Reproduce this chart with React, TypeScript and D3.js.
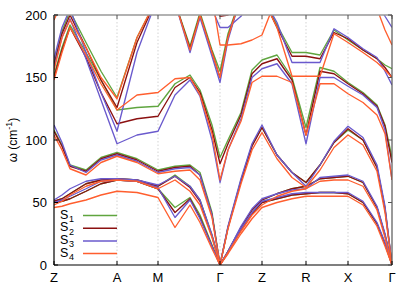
import * as d3 from 'd3'

// k-path: distance along the path, high-symmetry labels
const kPos = [0, 8, 16, 32, 47, 63, 83, 104, 121, 136, 146, 158, 166, 174, 187, 198, 208, 223, 238, 252, 266, 280, 294, 309, 323, 331, 338]
const tickK = [0, 63, 104, 166, 208, 252, 294, 338]
const tickLabels = ['Z', 'A', 'M', 'Γ', 'Z', 'R', 'X', 'Γ']
const yTicks = [0, 50, 100, 150, 200]

const seriesNames = ['1', '2', '3', '4']
const seriesColors = ['#5fa53f', '#8b1010', '#6a5acd', '#ff5e2e']

// frequencies (cm-1), one array per band, values at each kPos
const s1Bands = [
  [50, 51, 53, 59, 65, 68, 67, 61, 46, 54, 40, 16, 0, 10, 28, 41, 50, 53, 56, 57, 58, 58, 57, 50, 33, 17, 0],
  [51, 53, 57, 65, 68, 69, 68, 63, 72, 63, 52, 24, 0, 11, 30, 44, 52, 57, 61, 63, 69, 70, 71, 66, 46, 24, 0],
  [108, 96, 80, 76, 86, 90, 85, 76, 79, 80, 74, 42, 0, 30, 68, 96, 110, 88, 74, 66, 80, 98, 108, 100, 78, 45, 0],
  [152, 174, 192, 170, 148, 124, 126, 127, 145, 152, 140, 112, 86, 100, 122, 156, 164, 168, 150, 110, 158, 155, 146, 138, 128, 112, 86],
  [162, 187, 203, 178, 155, 134, 182, 215, 210, 175, 202, 172, 155, 185, 215, 215, 215, 192, 170, 170, 168, 188, 180, 172, 165, 160, 157],
  [205, 215, 215, 215, 215, 215, 215, 215, 215, 215, 215, 215, 205, 208, 215, 215, 215, 215, 215, 215, 215, 215, 215, 215, 215, 210, 205],
]
const s2Bands = [
  [50, 51, 53, 59, 65, 68, 67, 61, 42, 53, 38, 15, 0, 10, 28, 41, 50, 53, 56, 57, 58, 58, 57, 50, 33, 17, 0],
  [51, 53, 57, 65, 68, 69, 68, 63, 71, 62, 51, 23, 0, 11, 30, 44, 52, 57, 61, 63, 69, 70, 71, 66, 46, 24, 0],
  [107, 95, 79, 75, 85, 89, 84, 75, 78, 79, 72, 40, 0, 30, 67, 95, 110, 88, 74, 66, 80, 98, 109, 100, 78, 45, 0],
  [150, 172, 190, 166, 138, 113, 117, 119, 142, 150, 138, 108, 81, 97, 120, 153, 161, 165, 148, 104, 155, 153, 145, 137, 127, 111, 82],
  [160, 185, 200, 174, 148, 126, 178, 215, 210, 173, 200, 170, 150, 182, 215, 215, 215, 190, 167, 167, 165, 186, 181, 172, 165, 158, 150],
  [210, 215, 215, 215, 215, 215, 215, 215, 215, 215, 215, 212, 199, 200, 210, 215, 215, 215, 215, 215, 215, 215, 215, 215, 215, 205, 199],
]
const s3Bands = [
  [50, 52, 55, 61, 67, 68, 67, 62, 38, 52, 37, 15, 0, 10, 29, 42, 51, 54, 57, 58, 58, 58, 58, 51, 34, 18, 0],
  [52, 56, 61, 67, 69, 69, 68, 64, 71, 63, 52, 24, 0, 11, 31, 45, 53, 57, 60, 61, 70, 71, 72, 67, 47, 25, 0],
  [112, 98, 80, 74, 84, 88, 83, 74, 77, 78, 72, 40, 0, 31, 69, 97, 112, 88, 74, 63, 80, 99, 111, 102, 80, 47, 0],
  [158, 182, 197, 165, 132, 97, 104, 107, 136, 148, 135, 100, 66, 92, 117, 150, 157, 161, 145, 97, 150, 150, 143, 136, 126, 108, 68],
  [165, 190, 205, 170, 138, 107, 170, 215, 210, 170, 198, 167, 146, 180, 215, 215, 215, 194, 162, 162, 162, 189, 182, 173, 166, 155, 144],
  [215, 215, 215, 215, 215, 215, 215, 215, 215, 215, 215, 205, 190, 190, 199, 212, 215, 215, 215, 215, 215, 215, 215, 215, 210, 199, 190],
]
const s4Bands = [
  [46, 47, 49, 52, 56, 59, 58, 54, 30, 48, 34, 13, 0, 9, 25, 37, 46, 50, 53, 55, 55, 55, 55, 48, 31, 15, 0],
  [48, 51, 56, 63, 67, 68, 67, 61, 68, 59, 48, 22, 0, 10, 27, 40, 48, 55, 59, 61, 67, 68, 68, 63, 44, 22, 0],
  [104, 92, 77, 72, 82, 87, 82, 73, 75, 76, 68, 38, 0, 29, 65, 92, 106, 85, 70, 62, 76, 94, 104, 96, 75, 42, 0],
  [148, 170, 190, 168, 145, 124, 136, 138, 149, 150, 136, 105, 68, 92, 115, 146, 151, 151, 146, 104, 145, 145, 137, 130, 120, 105, 68],
  [156, 182, 196, 174, 150, 133, 182, 215, 210, 172, 200, 170, 150, 182, 215, 215, 215, 190, 151, 151, 151, 185, 178, 170, 162, 156, 150],
  [196, 210, 215, 215, 215, 215, 215, 215, 215, 215, 215, 215, 176, 176, 177, 180, 184, 215, 215, 215, 215, 215, 215, 215, 205, 188, 176],
]
const allSeries = [s1Bands, s2Bands, s3Bands, s4Bands]

const width = 415
const height = 291
const left = 54
const right = 392
const top = 15
const bottom = 265
const font = '"Liberation Sans", Arial, sans-serif'

export default function App() {
  const x = d3.scaleLinear().domain([0, 338]).range([left, right])
  const y = d3.scaleLinear().domain([0, 200]).range([bottom, top])
  const line = d3.line<number>()
    .x((_, i) => x(kPos[i]))
    .y(d => y(d))

  return (
    <svg width={width} height={height} style={{ position: 'absolute', left: 0, top: 0 }} fontFamily={font}>
      <defs>
        <clipPath id="plot">
          <rect x={left} y={top} width={right - left} height={bottom - top} />
        </clipPath>
      </defs>

      {/* dotted grid at high-symmetry points */}
      {tickK.slice(1, -1).map((k, i) => (
        <line key={i} x1={x(k)} x2={x(k)} y1={top} y2={bottom}
          stroke="#c8c8c8" strokeWidth={0.8} strokeDasharray="1.5,2" />
      ))}

      {/* bands */}
      <g clipPath="url(#plot)" fill="none" strokeWidth={1.35} strokeLinejoin="round">
        {allSeries.map((bands, si) => (
          <g key={si} stroke={seriesColors[si]}>
            {bands.map((b, bi) => <path key={bi} d={line(b) ?? ''} />)}
          </g>
        ))}
      </g>

      {/* frame */}
      <line x1={left} x2={right} y1={top} y2={top} stroke="#999" strokeWidth={1.5} />
      <line x1={right} x2={right} y1={top} y2={bottom} stroke="#555" strokeWidth={1.2} />
      <line x1={left} x2={left} y1={top} y2={bottom} stroke="#000" strokeWidth={1.2} />
      <line x1={left} x2={right} y1={bottom} y2={bottom} stroke="#000" strokeWidth={1.2} />

      {/* y ticks */}
      {yTicks.map(t => (
        <g key={t}>
          <line x1={left} x2={left + 4} y1={y(t)} y2={y(t)} stroke="#000" />
          <line x1={right - 4} x2={right} y1={y(t)} y2={y(t)} stroke="#555" />
          <text x={left - 7} y={y(t) + 4.5} textAnchor="end" fontSize={13}>{t}</text>
        </g>
      ))}

      {/* x ticks */}
      {tickK.map((k, i) => (
        <g key={i}>
          <line x1={x(k)} x2={x(k)} y1={bottom} y2={bottom - 4} stroke="#000" />
          <line x1={x(k)} x2={x(k)} y1={top} y2={top + 4} stroke="#555" />
          <text x={x(k)} y={282} textAnchor="middle" fontSize={13}>{tickLabels[i]}</text>
        </g>
      ))}

      {/* y label */}
      <text transform={`translate(17,${(top + bottom) / 2}) rotate(-90)`} textAnchor="middle" fontSize={12}>
        ω (cm<tspan dy={-5} fontSize={9}>-1</tspan><tspan dy={5}>)</tspan>
      </text>

      {/* legend */}
      {seriesNames.map((n, i) => {
        const ly = 215.5 + i * 12.7
        return (
          <g key={n}>
            <text x={60} y={ly + 3} fontSize={12.5}>S</text>
            <text x={69} y={ly + 6.5} fontSize={9}>{n}</text>
            <line x1={83} x2={117} y1={ly} y2={ly} stroke={seriesColors[i]} strokeWidth={1.5} />
          </g>
        )
      })}
    </svg>
  )
}
